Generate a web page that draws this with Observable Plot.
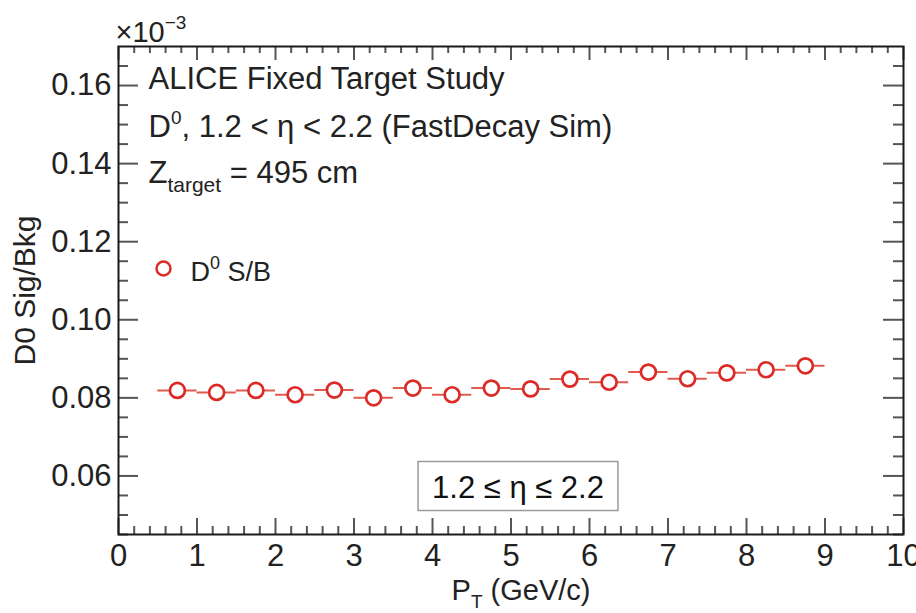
<!DOCTYPE html>
<html><head><meta charset="utf-8">
<script src="https://cdn.jsdelivr.net/npm/d3@7"></script>
<script src="https://cdn.jsdelivr.net/npm/@observablehq/plot@0.6"></script>
<style>
body{margin:0;background:#fff}
svg{font-family:"Liberation Sans",Arial,Helvetica,sans-serif}
</style>
</head><body><div id="chart"></div>
<script>
// pT bin centres (GeV/c) and half bin widths
const ptCenters = [0.75,1.25,1.75,2.25,2.75,3.25,3.75,4.25,4.75,5.25,5.75,6.25,6.75,7.25,7.75,8.25,8.75];
const ptHalfWidth = [0.25,0.25,0.25,0.25,0.25,0.25,0.25,0.25,0.25,0.25,0.25,0.25,0.25,0.25,0.25,0.25,0.25];
// D0 S/B (axis values, in units of 10^-3)
const sigBkg = [0.0819,0.0814,0.0819,0.0808,0.0820,0.0800,0.0825,0.0808,0.0825,0.0823,0.0848,0.0840,0.0866,0.0849,0.0864,0.0872,0.0882];
// axis ticks
const xMajor = [0,1,2,3,4,5,6,7,8,9,10];
const xMinor = [0.2,0.4,0.6,0.8,1.2,1.4,1.6,1.8,2.2,2.4,2.6,2.8,3.2,3.4,3.6,3.8,4.2,4.4,4.6,4.8,5.2,5.4,5.6,5.8,6.2,6.4,6.6,6.8,7.2,7.4,7.6,7.8,8.2,8.4,8.6,8.8,9.2,9.4,9.6,9.8];
const yMajor = [0.06,0.08,0.10,0.12,0.14,0.16];
const yMinor = [0.045,0.05,0.055,0.065,0.07,0.075,0.085,0.09,0.095,0.105,0.11,0.115,0.125,0.13,0.135,0.145,0.15,0.155,0.165];
const xDomain = [0, 10];
const yDomain = [0.045, 0.17];

const rows = ptCenters.map((pt, i) => ({pt, sb: sigBkg[i], lo: pt - ptHalfWidth[i], hi: pt + ptHalfWidth[i]}));

const W = 916, H = 613, mL = 118, mR = 13, mT = 46, mB = 79;
const innerW = W - mL - mR, innerH = H - mT - mB;
const tickCol = "#555", red = "#dc2a26", barRed = "#e05a50";
const fs = 31;

const plot = Plot.plot({
  width: W, height: H,
  marginLeft: mL, marginRight: mR, marginTop: mT, marginBottom: mB,
  x: {domain: xDomain},
  y: {domain: yDomain},
  marks: [
    // inner ticks (bottom/top)
    Plot.tickX(xMinor, {x: d => d, insetTop: innerH - 8, stroke: tickCol, strokeWidth: 2}),
    Plot.tickX(xMajor, {x: d => d, insetTop: innerH - 16, stroke: tickCol, strokeWidth: 2}),
    Plot.tickX(xMinor, {x: d => d, insetBottom: innerH - 7, stroke: tickCol, strokeWidth: 2}),
    Plot.tickX(xMajor, {x: d => d, insetBottom: innerH - 14, stroke: tickCol, strokeWidth: 2}),
    // inner ticks (left/right)
    Plot.tickY(yMinor, {y: d => d, insetRight: innerW - 10, stroke: tickCol, strokeWidth: 2}),
    Plot.tickY(yMajor, {y: d => d, insetRight: innerW - 20, stroke: tickCol, strokeWidth: 2}),
    Plot.tickY(yMinor, {y: d => d, insetLeft: innerW - 10, stroke: tickCol, strokeWidth: 2}),
    Plot.tickY(yMajor, {y: d => d, insetLeft: innerW - 20, stroke: tickCol, strokeWidth: 2}),
    Plot.frame({stroke: "#1a1a1a", strokeWidth: 2}),
    Plot.axisX({ticks: xMajor, tickSize: 0, tickPadding: 9, fontSize: fs, label: null, tickFormat: d3.format("d"), fill: "#222"}),
    Plot.axisY({ticks: yMajor, tickSize: 0, tickPadding: 7, fontSize: fs, label: null, tickFormat: d3.format(".2f"), fill: "#222"}),
    // axis titles
    Plot.text(["D0 Sig/Bkg"], {frameAnchor: "left", rotate: -90, dx: -93, textAnchor: "middle", lineAnchor: "middle", fontSize: 30, fill: "#222"}),
    Plot.text(["P_T (GeV/c)"], {frameAnchor: "bottom", dx: 10, dy: 65, textAnchor: "middle", lineAnchor: "bottom", fontSize: 29, fill: "#222"}),
    Plot.text(["×10^-3"], {frameAnchor: "top-left", dx: -3, dy: -5, textAnchor: "start", lineAnchor: "bottom", fontSize: 29, fill: "#222"}),
    // header text
    Plot.text(["ALICE Fixed Target Study"], {frameAnchor: "top-left", dx: 30, dy: 42, textAnchor: "start", lineAnchor: "bottom", fontSize: fs, fill: "#222"}),
    Plot.text(["D^0, 1.2 < η < 2.2 (FastDecay Sim)"], {frameAnchor: "top-left", dx: 30, dy: 90, textAnchor: "start", lineAnchor: "bottom", fontSize: fs, fill: "#222"}),
    Plot.text(["Z_target = 495 cm"], {frameAnchor: "top-left", dx: 30, dy: 136, textAnchor: "start", lineAnchor: "bottom", fontSize: fs, fill: "#222"}),
    // legend
    Plot.dot([0], {frameAnchor: "top-left", dx: 45, dy: 222, r: 7, stroke: red, strokeWidth: 2.5, fill: "white"}),
    Plot.text(["D^0 S/B"], {frameAnchor: "top-left", dx: 72, dy: 234, textAnchor: "start", lineAnchor: "bottom", fontSize: 27, fill: "#222"}),
    // eta box text
    Plot.text(["1.2 ≤ η ≤ 2.2"], {frameAnchor: "bottom", dx: 7, dy: -37, textAnchor: "middle", lineAnchor: "bottom", fontSize: 31, fill: "#111"}),
    // data
    Plot.ruleY(rows, {y: "sb", x1: "lo", x2: "hi", stroke: barRed, strokeWidth: 2}),
    Plot.dot(rows, {x: "pt", y: "sb", r: 7.5, stroke: red, strokeWidth: 2.7, fill: "white"})
  ]
});
document.getElementById("chart").appendChild(plot);

// rich text (sub/superscripts)
const svg = d3.select(plot);
function rich(plain, parts) {
  svg.selectAll("text").filter(function(){ return this.textContent === plain; }).each(function(){
    const t = d3.select(this);
    t.text(null);
    let cur = 0;
    parts.forEach(([s, shift, size]) => {
      const ts = t.append("tspan").attr("dy", shift - cur).text(s);
      if (size) ts.attr("font-size", size);
      cur = shift;
    });
  });
}
rich("×10^-3", [["×10", 0], ["−3", -13, 19]]);
rich("D^0, 1.2 < η < 2.2 (FastDecay Sim)", [["D", 0], ["0", -13, 19], [", 1.2 < η < 2.2 (FastDecay Sim)", 0]]);
rich("Z_target = 495 cm", [["Z", 0], ["target", 9, 21], [" = 495 cm", 0]]);
rich("D^0 S/B", [["D", 0], ["0", -12, 18], [" S/B", 0]]);
rich("P_T (GeV/c)", [["P", 0], ["T", 8, 19], [" (GeV/c)", 0]]);

// box round the eta label (in the text's own coordinate frame)
svg.selectAll("text").filter(function(){ return this.textContent === "1.2 ≤ η ≤ 2.2"; }).each(function(){
  const b = this.getBBox();
  const g = d3.select(this.parentNode);
  const r = g.insert("rect", ":first-child")
    .attr("x", b.x - 14).attr("y", b.y - 8).attr("width", b.width + 28).attr("height", b.height + 14)
    .attr("fill", "white").attr("stroke", "#9a9a9a").attr("stroke-width", 1.5);
  const tr = this.getAttribute("transform");
  if (tr) r.attr("transform", tr);
});
</script>
</body></html>
